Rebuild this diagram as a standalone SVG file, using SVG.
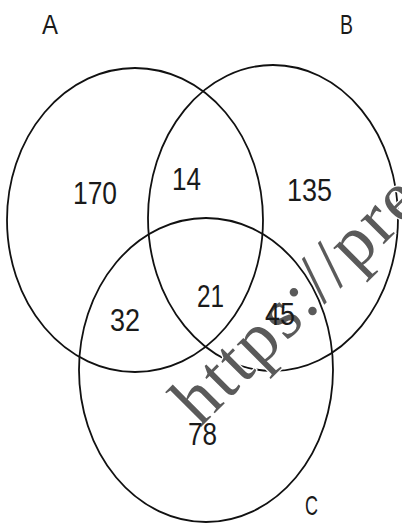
<svg xmlns="http://www.w3.org/2000/svg" width="402" height="530" viewBox="0 0 402 530">
<style>
.c{fill:none;stroke:#111;stroke-width:1.8}
.t{font-family:"Liberation Sans",Arial,sans-serif;fill:#1a1a1a}
.n{font-size:32px}
.l{font-size:28px}
.w{font-family:"Liberation Serif",serif;font-size:72px;letter-spacing:2.5px;fill:#5a5a5a;stroke:#fff;stroke-width:2.5;paint-order:stroke}
</style>
<rect width="402" height="530" fill="#fff"/>
<g id="setA"><ellipse class="c" cx="135" cy="220" rx="128" ry="152"/><text class="t l" x="42" y="34" textLength="16" lengthAdjust="spacingAndGlyphs">A</text></g>
<g id="setB"><ellipse class="c" cx="273" cy="218" rx="125" ry="153"/><text class="t l" x="340" y="34" textLength="13" lengthAdjust="spacingAndGlyphs">B</text></g>
<g id="setC"><ellipse class="c" cx="206" cy="370" rx="127" ry="152"/><text class="t l" x="305" y="515" textLength="13" lengthAdjust="spacingAndGlyphs">C</text></g>
<g id="watermark"><text class="w" transform="translate(200,428) rotate(-45)">https://pre</text></g>
<g id="counts">
<text class="t n" x="73" y="204" textLength="44" lengthAdjust="spacingAndGlyphs">170</text>
<text class="t n" x="172" y="190" textLength="29" lengthAdjust="spacingAndGlyphs">14</text>
<text class="t n" x="287" y="201" textLength="45" lengthAdjust="spacingAndGlyphs">135</text>
<text class="t n" x="110" y="331" textLength="30" lengthAdjust="spacingAndGlyphs">32</text>
<text class="t n" x="197" y="307" textLength="27" lengthAdjust="spacingAndGlyphs">21</text>
<text class="t n" x="265" y="325" textLength="30" lengthAdjust="spacingAndGlyphs">45</text>
<text class="t n" x="188" y="445" textLength="29" lengthAdjust="spacingAndGlyphs">78</text>
</g>
</svg>
